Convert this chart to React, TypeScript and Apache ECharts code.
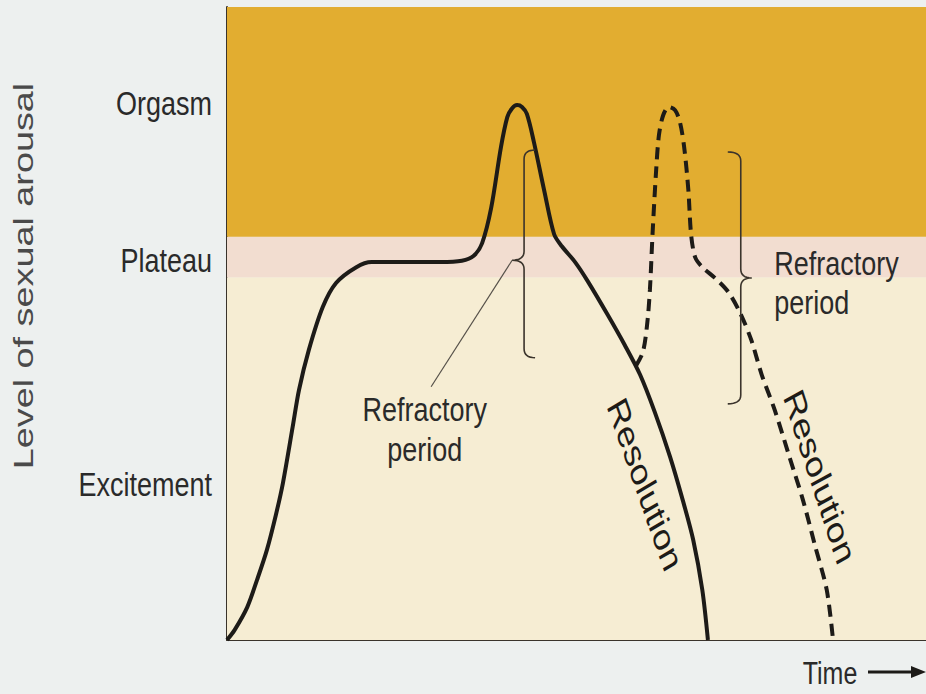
import React, { useEffect, useRef } from 'react';
import * as echarts from 'echarts';

// ---- data (x: time 0–100, y: arousal level 0–100) ----
const solidCurve: number[][] = [
  [0, 0], [1.1, 1.6], [2.9, 5.2], [4.3, 9.5], [5.7, 14.2], [7.0, 19.8], [8.0, 24.8],
  [9.4, 33.7], [10.3, 39.5], [11.7, 45.8], [13.7, 52.6], [15.6, 56.4], [18.5, 58.9],
  [20.7, 59.7], [24.8, 59.7], [30.5, 59.7], [33.6, 59.9], [35.3, 60.7], [36.5, 62.7],
  [37.8, 68.3], [39.2, 77.9], [40.1, 82.6], [40.8, 84.0], [41.5, 84.5], [42.2, 84.2],
  [42.9, 83.1], [43.9, 78.7], [45.4, 70.9], [46.8, 64.1], [47.9, 62.2], [49.8, 59.7],
  [51.6, 56.7], [54.5, 51.3], [56.9, 46.6], [59.1, 41.9], [61.2, 36.0], [63.4, 28.9],
  [65.2, 22.1], [66.7, 15.8], [68.0, 7.9], [68.8, 0]
];
const dashedCurve: number[][] = [
  [58.5, 43.3], [59.5, 45.5], [60.1, 49.8], [60.5, 55.3], [60.9, 64.6], [61.4, 74.3],
  [61.8, 79.8], [62.4, 82.9], [63.2, 84.2], [64.1, 83.7], [64.8, 81.8], [65.4, 77.9],
  [66.0, 71.1], [66.4, 64.0], [67.0, 60.4], [68.1, 58.8], [69.8, 57.2], [71.7, 55.0],
  [73.4, 51.7], [75.0, 47.4], [76.5, 41.9], [78.4, 36.2], [80.5, 28.8], [82.4, 22.1],
  [84.1, 15.0], [85.8, 7.9], [86.7, 0]
];
const bandEdges = [0, 57.3, 63.7, 100];
const bandColors = ['#F6EDD3', '#F2DDD0', '#E2AD30'];
const yLevelValues = [24.5, 60, 84.8];
const yLevelLabels = ['Excitement', 'Plateau', 'Orgasm'];
const yAxisTitle = 'Level of sexual arousal';
const xAxisTitle = 'Time';
const refractoryText = 'Refractory\nperiod';
const resolutionText = 'Resolution';

// annotation anchors in data units
const leftBrace = { x: 42.5, top: 77.4, mid: 60.0, bottom: 44.6 };
const rightBrace = { x: 73.5, top: 77.1, mid: 57.2, bottom: 37.3 };
const leaderLine = [[40.8, 60.0], [29.2, 40.0]];
const leftNote = [28.3, 33.2];
const rightNote = [78.3, 56.4];
const resolutionSolid = [59.8, 24.6];
const resolutionDashed = [84.8, 25.8];

const INK = '#1d1b18';
const TEXT = '#2a2a2a';
const SANS = "'Liberation Sans', Arial, Helvetica, sans-serif";

function bracePoints(s: number, t: number, m: number, b: number, d: number, h: number, r: number) {
  const pts: number[][] = [];
  const quad = (p0: number[], c: number[], p1: number[]) => {
    const n = 8;
    for (let i = 0; i <= n; i++) {
      const u = i / n;
      pts.push([
        (1 - u) * (1 - u) * p0[0] + 2 * (1 - u) * u * c[0] + u * u * p1[0],
        (1 - u) * (1 - u) * p0[1] + 2 * (1 - u) * u * c[1] + u * u * p1[1]
      ]);
    }
  };
  quad([s + h, t], [s, t], [s, t + r]);
  quad([s, m - r], [s, m], [s + d, m]);
  quad([s + d, m], [s, m], [s, m + r]);
  quad([s, b - r], [s, b], [s + h, b]);
  return pts;
}

function stretchedText(x: number, y: number, text: string, opts: any) {
  return {
    type: 'group',
    x,
    y,
    scaleY: opts.scaleY,
    silent: true,
    z: 20,
    children: [
      {
        type: 'text',
        z: 20,
        rotation: opts.rotation || 0,
        style: {
          text,
          font: `${opts.size}px ${SANS}`,
          fill: opts.color || TEXT,
          align: opts.align || 'center',
          verticalAlign: 'middle',
          lineHeight: opts.lineHeight
        }
      }
    ]
  };
}

export default function App() {
  const ref = useRef<HTMLDivElement>(null);
  useEffect(() => {
    if (!ref.current) return;
    const chart = echarts.init(ref.current, null, { renderer: 'svg' });
    const option: any = {
      animation: false,
      backgroundColor: '#EDF0EF',
      grid: { left: 227, right: 0, top: 7, bottom: 54, containLabel: false },
      xAxis: {
        type: 'value', min: 0, max: 100,
        axisLine: { show: true, lineStyle: { color: '#3a332b', width: 2 } },
        axisTick: { show: false }, axisLabel: { show: false }, splitLine: { show: false }
      },
      yAxis: {
        type: 'value', min: 0, max: 100,
        axisLine: { show: true, lineStyle: { color: '#3a332b', width: 2 } },
        axisTick: { show: false }, splitLine: { show: false },
        // level names are drawn (vertically stretched) at these axis values below
        axisLabel: { show: false }
      },
      series: [
        {
          type: 'line',
          data: solidCurve,
          showSymbol: false,
          smooth: 0.3,
          lineStyle: { color: INK, width: 4 },
          silent: true,
          z: 3,
          markArea: {
            silent: true,
            data: bandColors.map((c, i) => [
              { yAxis: bandEdges[i], itemStyle: { color: c } },
              { yAxis: bandEdges[i + 1] }
            ])
          }
        },
        {
          type: 'line',
          data: dashedCurve,
          showSymbol: false,
          smooth: 0.3,
          lineStyle: { color: INK, width: 4, type: [12, 7] },
          silent: true,
          z: 3
        }
      ]
    };
    chart.setOption(option);
    const P = (p: number[]) => chart.convertToPixel({ gridIndex: 0 }, p) as number[];

    const lb = [P([leftBrace.x, leftBrace.top]), P([leftBrace.x, leftBrace.mid]), P([leftBrace.x, leftBrace.bottom])];
    const rb = [P([rightBrace.x, rightBrace.top]), P([rightBrace.x, rightBrace.mid]), P([rightBrace.x, rightBrace.bottom])];
    const l0 = P(leaderLine[0]);
    const l1 = P(leaderLine[1]);
    const ln = P(leftNote);
    const rn = P(rightNote);
    const rs = P(resolutionSolid);
    const rd = P(resolutionDashed);
    const deg = Math.PI / 180;
    const axisX = P([0, 0])[0];

    const levelLabels = yLevelValues.map((v, i) =>
      stretchedText(axisX - 15, P([0, v])[1], yLevelLabels[i], { size: 27, scaleY: 1.2, align: 'right' })
    );

    chart.setOption({
      graphic: [
        ...levelLabels,
        {
          type: 'polyline', silent: true, z: 10,
          shape: { points: bracePoints(lb[0][0], lb[0][1], lb[1][1], lb[2][1], -12, 11, 9) },
          style: { stroke: '#3b342c', lineWidth: 1.6, fill: null }
        },
        {
          type: 'polyline', silent: true, z: 10,
          shape: { points: bracePoints(rb[0][0], rb[0][1], rb[1][1], rb[2][1], 11, -13, 9) },
          style: { stroke: '#3b342c', lineWidth: 1.6, fill: null }
        },
        {
          type: 'line', silent: true, z: 10,
          shape: { x1: l0[0], y1: l0[1], x2: l1[0], y2: l1[1] },
          style: { stroke: '#555049', lineWidth: 1.2 }
        },
        stretchedText(ln[0], ln[1], refractoryText, { size: 27, scaleY: 1.2, lineHeight: 33 }),
        stretchedText(rn[0], rn[1], refractoryText, { size: 27, scaleY: 1.2, lineHeight: 33, align: 'left' }),
        stretchedText(rs[0], rs[1], resolutionText, { size: 30, scaleY: 1.3, rotation: -65.6 * deg, color: INK }),
        stretchedText(rd[0], rd[1], resolutionText, { size: 30, scaleY: 1.3, rotation: -67.2 * deg, color: INK }),
        stretchedText(23, 276, yAxisTitle, { size: 28, scaleY: 1.35, rotation: 90 * deg, color: '#4a4a4a' }),
        stretchedText(830, 673, xAxisTitle, { size: 25, scaleY: 1.25 }),
        {
          type: 'line', silent: true,
          shape: { x1: 868, y1: 672, x2: 914, y2: 672 },
          style: { stroke: INK, lineWidth: 3 }
        },
        {
          type: 'polygon', silent: true,
          shape: { points: [[911, 666], [926, 672], [911, 678]] },
          style: { fill: INK }
        }
      ]
    });
    return () => chart.dispose();
  }, []);
  return (
    <div
      ref={ref}
      style={{ position: 'fixed', left: 0, top: 0, width: 926, height: 694 }}
    />
  );
}
